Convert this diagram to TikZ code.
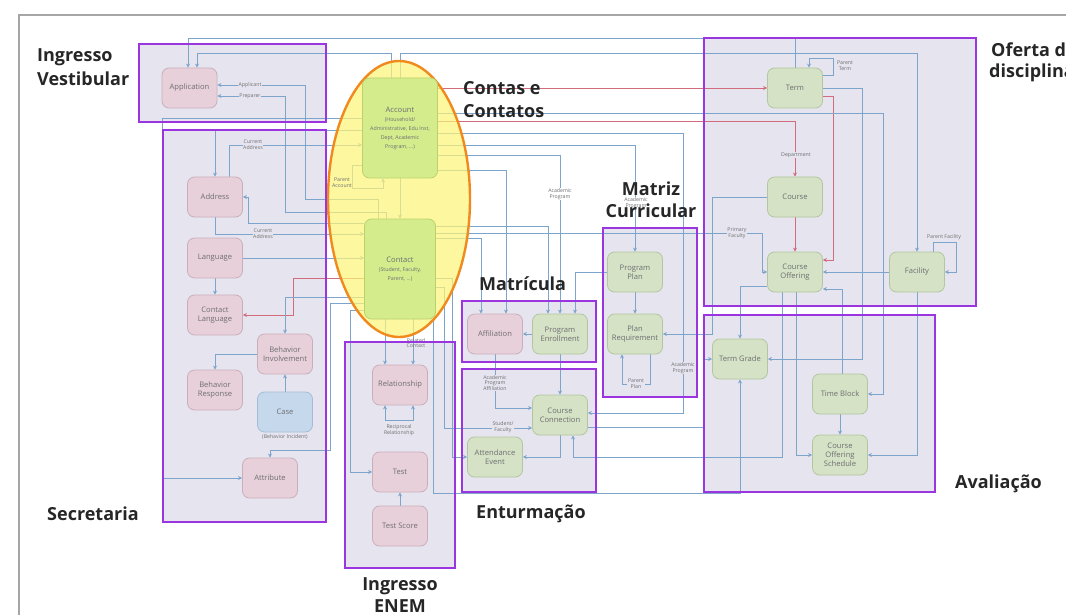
\documentclass[tikz,border=0pt]{standalone}
\usepackage{fontspec}
\setmainfont{Open Sans}
\usetikzlibrary{arrows.meta,calc}
\pgfdeclarelayer{bg}\pgfdeclarelayer{conn}\pgfdeclarelayer{ell}\pgfdeclarelayer{fg}
\pgfsetlayers{bg,conn,ell,main,fg}
\definecolor{grpf}{HTML}{E6E5EF}
\definecolor{purp}{HTML}{9B35E0}
\definecolor{pinkf}{HTML}{E8D0DA}
\definecolor{pinkd}{HTML}{C9AEBB}
\definecolor{grnf}{HTML}{D5E2C5}
\definecolor{grnd}{HTML}{B2C6A0}
\definecolor{limef}{HTML}{D4EC8C}
\definecolor{limed}{HTML}{B9D26E}
\definecolor{bluef}{HTML}{C6D8EC}
\definecolor{blued}{HTML}{A4BCD6}
\definecolor{ellf}{HTML}{FCF47A}
\definecolor{ello}{HTML}{F08A1E}
\definecolor{lineb}{HTML}{7DA4CA}
\definecolor{liner}{HTML}{D06C7C}
\definecolor{txt}{HTML}{6E6E72}
\newcommand{\subfont}{\fontsize{5.3}{6.3}\selectfont}
\begin{document}
\begin{tikzpicture}[x=1pt,y=-1pt,
  ent/.style={draw, rounded corners=7pt, minimum width=55pt, minimum height=40pt, align=center, text=txt, line width=0.8pt, inner sep=1pt, font=\fontsize{7.6}{9}\selectfont},
  pinkn/.style={ent, fill=pinkf, draw=pinkd},
  grnn/.style={ent, fill=grnf, draw=grnd},
  limen/.style={ent, fill=limef, draw=limed},
  bluen/.style={ent, fill=bluef, draw=blued},
  conn/.style={draw=lineb, line width=0.9pt, -{Stealth[length=4pt,width=4pt]}},
  rconn/.style={conn, draw=liner},
  lbl/.style={font=\fontsize{5.2}{5.8}\selectfont, text=txt, align=center, inner sep=0.6pt},
  lblg/.style={lbl, fill=grpf},
  lblw/.style={lbl, fill=white},
  big/.style={font=\fontsize{18}{21}\selectfont\bfseries, text=black!85, inner sep=0pt},
  grp/.style={draw=purp, line width=2.6pt}
]
\useasboundingbox (0,0) rectangle (1066,615);

% ---------- entities ----------
\node[pinkn] (Application) at (189.5,88) {Application};
\node[limen, minimum width=75pt, minimum height=100pt] (Account) at (400,128)
  {Account\\ \subfont (Household/\\ \subfont Administrative, Edu Inst,\\ \subfont Dept, Academic\\ \subfont Program, ...)};
\node[limen, minimum width=71pt, minimum height=100pt] (Contact) at (400,269)
  {Contact\\ \subfont (Student, Faculty,\\ \subfont Parent, ...)};
\node[pinkn] (Address) at (215,197) {Address};
\node[pinkn] (Language) at (215,258) {Language};
\node[pinkn] (ContactLanguage) at (215,315) {Contact\\Language};
\node[pinkn] (BehInv) at (285,354) {Behavior\\Involvement};
\node[pinkn] (BehResp) at (215,390) {Behavior\\Response};
\node[bluen] (Case) at (285,412) {Case};
\node[pinkn] (Attribute) at (270,478) {Attribute};
\node[pinkn] (Relationship) at (400,385) {Relationship};
\node[pinkn] (Test) at (400,472) {Test};
\node[pinkn] (TestScore) at (400,526) {Test Score};
\node[pinkn] (Affiliation) at (495,334) {Affiliation};
\node[grnn] (ProgEnroll) at (560,334) {Program\\Enrollment};
\node[grnn] (CourseConn) at (560,415) {Course\\Connection};
\node[grnn] (Attendance) at (495,457) {Attendance\\Event};
\node[grnn] (ProgPlan) at (635,272) {Program\\Plan};
\node[grnn] (PlanReq) at (635,334) {Plan\\Requirement};
\node[grnn] (Term) at (795,88) {Term};
\node[grnn] (Course) at (795,197) {Course};
\node[grnn] (CourseOff) at (795,272) {Course\\Offering};
\node[grnn] (Facility) at (917,272) {Facility};
\node[grnn] (TermGrade) at (740,359) {Term Grade};
\node[grnn] (TimeBlock) at (840,394) {Time Block};
\node[grnn] (COS) at (840,455) {Course\\Offering\\Schedule};

% ---------- background ----------
\begin{pgfonlayer}{bg}
  \draw[gray!70, line width=1.2pt] (19,620) -- (19,15) -- (1070,15);
  \fill[grpf] (139,44) rectangle (326,122);
  \fill[grpf] (163,130) rectangle (326,522);
  \fill[grpf] (345,342) rectangle (455,568);
  \fill[grpf] (462,301) rectangle (596,362);
  \fill[grpf] (462,369) rectangle (596,492);
  \fill[grpf] (603,228) rectangle (697,397);
  \fill[grpf] (704,38) rectangle (976,306);
  \fill[grpf] (704,315) rectangle (935,492);
\end{pgfonlayer}

% ---------- ellipse ----------
\begin{pgfonlayer}{ell}
  \filldraw[fill=ellf, fill opacity=0.72, draw=ello, line width=2.4pt] (399,199) ellipse [x radius=71pt, y radius=138pt];
\end{pgfonlayer}

% ---------- connectors ----------
\begin{pgfonlayer}{conn}
  \draw[conn] (Term.north) |- (188,38) -- ([xshift=-1.5pt]Application.north);
  \draw[conn] ([xshift=-9pt]Account.north) |- (197,53) -- ([xshift=7.5pt]Application.north);
  \draw[conn] (Account.north) |- (917,53) -- (Facility.north);
  \draw[conn] ([xshift=-22pt]Contact.north) |- (305,199) |- ([yshift=3pt]Application.east);
  \draw[conn] ([xshift=-14pt]Contact.north) |- (285,212) |- ([yshift=-8pt]Application.east);
  \draw[conn] ([yshift=10pt]Account.west) -| (162,478) -- (Attribute.west);
  \draw[conn] ([yshift=-2pt]Account.west) -| (Address.north);
  \draw[conn] ([xshift=14pt]Address.north) |- ([yshift=-17pt]Account.west);
  \draw[conn] ([yshift=46pt]Contact.west) -| (248,197) -- (Address.east);
  \draw[conn] (Address.south) |- ([yshift=35pt]Contact.west);
  \draw[conn] (Language.east) -- (Language.east -| Contact.west);
  \draw[conn] (Language.south) -- (ContactLanguage.north);
  \draw[rconn] ([yshift=-9pt]Contact.west) -| (293,315) -- (ContactLanguage.east);
  \draw[conn] ([yshift=-28pt]Contact.west) -| (BehInv.north);
  \draw[conn] (BehInv.west) -| (BehResp.north);
  \draw[conn] (Case.north) -- (BehInv.south);
  \draw[conn] ([yshift=-34pt]Contact.west) -| (330,450) -| (Attribute.north);
  \draw[conn] ([yshift=-41pt]Contact.west) -| (350,472) -- (Test.west);
  \draw[conn] ([xshift=-15pt]Contact.south) -- ([xshift=-15pt]Relationship.north);
  \draw[conn] ([xshift=13pt]Contact.south) -- ([xshift=13pt]Relationship.north);
  \draw[conn, {Stealth[length=4pt,width=4pt]}-{Stealth[length=4pt,width=4pt]}] ([xshift=-15pt]Relationship.south) -- ++(0,15) -| ([xshift=13pt]Relationship.south);
  \draw[conn] (TestScore.north) -- (Test.south);
  \draw[conn] ([xshift=-2pt]Contact.south east) |- (740,493) -- (TermGrade.south);
  \draw[conn] ([yshift=-9pt]Contact.east) -| (452,457) -- (Attendance.west);
  \draw[conn] ([yshift=-18pt]Contact.east) -| (444,428) -- ([yshift=-13pt]CourseConn.west);
  \draw[conn] (ProgEnroll.west) -- (Affiliation.east);
  \draw[conn] (Affiliation.south) |- ([yshift=7pt]CourseConn.west);
  \draw[conn] (ProgEnroll.south) -- (CourseConn.north);
  \draw[conn] (CourseConn.south) |- (Attendance.east);
  \draw[conn] ([yshift=-42pt]Account.east) -| ([xshift=11pt]Affiliation.north);
  \draw[conn] ([yshift=31pt]Contact.east) -| ([xshift=-14pt]Affiliation.north);
  \draw[conn] ([yshift=-27pt]Account.east) -| (ProgEnroll.north);
  \draw[conn] ([yshift=43pt]Contact.east) -| ([xshift=-12pt]ProgEnroll.north);
  \draw[conn] (ProgPlan.west) -| ([xshift=15pt]ProgEnroll.north);
  \draw[conn] ([yshift=-17pt]Account.east) -| (ProgPlan.north);
  \draw[conn] ([yshift=-5pt]Account.east) -| (683,413) -- ([yshift=2pt]CourseConn.east);
  \draw[conn] (ProgPlan.south) -- (PlanReq.north);
  \draw[conn] ([xshift=15pt]PlanReq.south) -- ++(0,30) -| ([xshift=-13pt]PlanReq.south);
  \draw[conn] (Course.west) -| (712,334) -- (PlanReq.east);
  \draw[conn] ([yshift=36pt]Contact.east) -| (762,272) -- (CourseOff.west);
  \draw[rconn] ([yshift=40pt]Account.east) -- (Term.west);
  \draw[rconn] ([yshift=7pt]Account.east) -| (Course.north);
  \draw[rconn] ([yshift=-8pt]Term.east) -| (833,260) -- ([yshift=12pt]CourseOff.east);
  \draw[rconn] (Course.south) -- (CourseOff.north);
  \draw[conn] ([yshift=13pt]Term.east) -| (833,58) -| ([xshift=14pt]Term.north);
  \draw[conn] (Term.east) -| (862,359) -- (TermGrade.east);
  \draw[conn] ([yshift=15pt]Account.east) -| (883,394) -- (TimeBlock.east);
  \draw[conn] (Facility.west) -- (CourseOff.east);
  \draw[conn] ([xshift=16pt]Facility.north) |- (956,242) |- (Facility.east);
  \draw[conn] ([xshift=2pt]TimeBlock.north) |- ([yshift=-17pt]CourseOff.east);
  \draw[conn] ([yshift=-14pt]CourseOff.west) -| (TermGrade.north);
  \draw[conn] ([xshift=-13pt]CourseOff.south) |- (573,457) -- ([xshift=13pt]CourseConn.south);
  \draw[conn] ([xshift=1pt]CourseOff.south) |- (COS.west);
  \draw[conn] (Facility.south) |- (COS.east);
  \draw[conn] (TimeBlock.south) -- (COS.north);
  \draw[conn] ([yshift=-12pt]CourseConn.east) -| (704,359) -- (TermGrade.west);
  \draw[conn] (Account.south) -- (Contact.north);
  \draw[conn] ([yshift=-37pt]Account.west) -| (352,188) -| ([xshift=-17pt]Account.south);
\end{pgfonlayer}

% ---------- connector labels ----------
\node[lblg] (lApplicant) at (250,85) {Applicant};
\node[lblg] (lPreparer) at (250,96) {Preparer};
\node[lblg] (lCurAddr1) at (253,145) {Current\\Address};
\node[lblg] (lCurAddr2) at (263,234) {Current\\Address};
\node[lbl] (lParentAcc) at (342,183) {Parent\\Account};
\node[lblw] (lAcadProg1) at (560,194) {Academic\\Program};
\node[lblw] (lAcadProg2) at (636,203) {Academic\\Program};
\node[lblg] (lAcadProg3) at (683,368) {Academic\\Program};
\node[lblg] (lDept) at (796,155) {Department};
\node[lblg] (lParentTerm) at (845,66) {Parent\\Term};
\node[lblg] (lPrimFac) at (737,233) {Primary\\Faculty};
\node[lblg] (lParentFac) at (944,237) {Parent Facility};
\node[lbl] (lRelated) at (416,343) {Related\\Contact};
\node[lblg] (lRecip) at (399,430) {Reciprocal\\Relationship};
\node[lblg] (lAPA) at (495,383) {Academic\\Program\\Affiliation};
\node[lblg] (lStuFac) at (503,427) {Student/\\Faculty};
\node[lblg] (lParentPlan) at (636,384) {Parent\\Plan};
\node[lbl] (lBehInc) at (285,437) {(Behavior Incident)};

% ---------- group borders & titles ----------
\begin{pgfonlayer}{fg}
  \draw[grp] (139,44) rectangle (326,122);
  \draw[grp] (163,130) rectangle (326,522);
  \draw[grp] (345,342) rectangle (455,568);
  \draw[grp] (462,301) rectangle (596,362);
  \draw[grp] (462,369) rectangle (596,492);
  \draw[grp] (603,228) rectangle (697,397);
  \draw[grp] (704,38) rectangle (976,306);
  \draw[grp] (704,315) rectangle (935,492);
  \node[big, anchor=base west] (tIV1) at (37,62) {Ingresso};
  \node[big, anchor=base west] (tIV2) at (37,86) {Vestibular};
  \node[big, anchor=base west] (tCC1) at (463,95) {Contas e};
  \node[big, anchor=base west] (tCC2) at (463,118) {Contatos};
  \node[big, anchor=base west] (tOD1) at (991,57) {Oferta de};
  \node[big, anchor=base west] (tOD2) at (989,78) {disciplinas};
  \node[big, anchor=base] (tMC1) at (651,195) {Matriz};
  \node[big, anchor=base] (tMC2) at (651,217) {Curricular};
  \node[big, anchor=base west] (tMat) at (479,290) {Matrícula};
  \node[big, anchor=base west] (tSec) at (47,520) {Secretaria};
  \node[big, anchor=base west] (tEnt) at (476,518) {Enturmação};
  \node[big, anchor=base] (tIE1) at (400,590) {Ingresso};
  \node[big, anchor=base] (tIE2) at (400,612) {ENEM};
  \node[big, anchor=base west] (tAva) at (955,488) {Avaliação};
\end{pgfonlayer}
\end{tikzpicture}
\end{document}
